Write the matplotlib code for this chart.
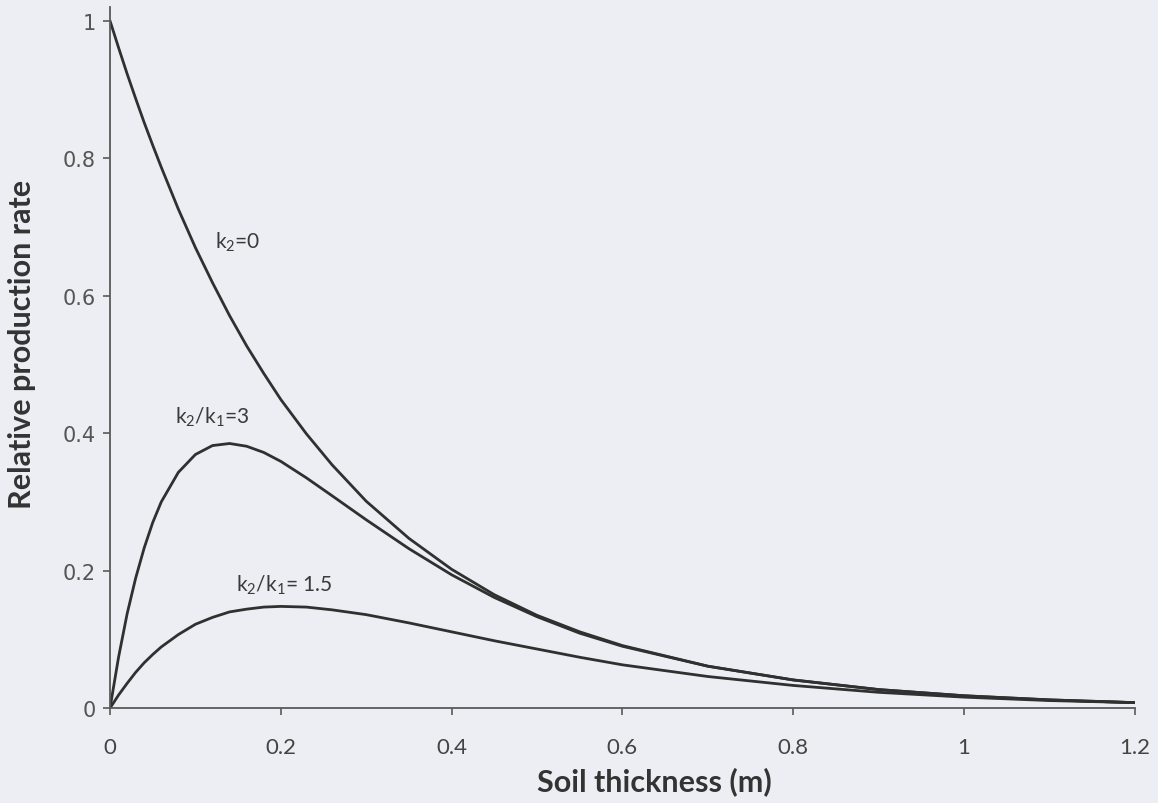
import numpy as np
import matplotlib.pyplot as plt

plt.rcParams['mathtext.fontset'] = 'custom'
plt.rcParams['mathtext.rm'] = 'Lato'
plt.rcParams['mathtext.default'] = 'regular'

# soil thickness (m)
thickness = [0, 0.01, 0.02, 0.03, 0.04, 0.05, 0.06, 0.08, 0.10, 0.12, 0.14,
             0.16, 0.18, 0.20, 0.23, 0.26, 0.30, 0.35, 0.40, 0.45, 0.50,
             0.55, 0.60, 0.70, 0.80, 0.90, 1.00, 1.10, 1.20]

# relative production rate
rate_k0 = [1.000, 0.961, 0.923, 0.887, 0.852, 0.819, 0.787, 0.726, 0.670, 0.619,
           0.571, 0.527, 0.487, 0.449, 0.399, 0.354, 0.301, 0.247, 0.202, 0.165,
           0.135, 0.111, 0.091, 0.061, 0.041, 0.027, 0.018, 0.012, 0.008]
rate_r3 = [0.000, 0.074, 0.137, 0.189, 0.233, 0.270, 0.300, 0.343, 0.369, 0.382,
           0.385, 0.381, 0.372, 0.359, 0.335, 0.309, 0.274, 0.232, 0.194, 0.161,
           0.133, 0.109, 0.090, 0.061, 0.041, 0.027, 0.018, 0.012, 0.008]
rate_r15 = [0.000, 0.019, 0.036, 0.052, 0.066, 0.078, 0.089, 0.107, 0.122, 0.132,
            0.140, 0.144, 0.147, 0.148, 0.147, 0.143, 0.136, 0.124, 0.111, 0.098,
            0.086, 0.074, 0.063, 0.046, 0.033, 0.023, 0.016, 0.011, 0.008]

xticks = [0, 0.2, 0.4, 0.6, 0.8, 1.0, 1.2]
xticklabels = ['0', '0.2', '0.4', '0.6', '0.8', '1', '1.2']
yticks = [0, 0.2, 0.4, 0.6, 0.8, 1.0]
yticklabels = ['0', '0.2', '0.4', '0.6', '0.8', '1']

bg = '#eceef3'
ink = '#303030'
axc = '#5a5a5a'

fig = plt.figure(figsize=(11.58, 8.04), dpi=100, facecolor=bg)
ax = fig.add_axes([0.095, 0.118, 0.885, 0.872], facecolor=bg)

for y in (rate_k0, rate_r3, rate_r15):
    ax.plot(thickness, y, color=ink, lw=2.0, solid_capstyle='round')

ax.set_xlim(0, 1.2)
ax.set_ylim(0, 1.02)
for s in ('top', 'right'):
    ax.spines[s].set_visible(False)
for s in ('left', 'bottom'):
    ax.spines[s].set_color(axc)
    ax.spines[s].set_linewidth(1.3)

ax.set_xticks(xticks)
ax.set_xticklabels(xticklabels, fontfamily='Lato', fontsize=16, color='#444444')
ax.set_yticks(yticks)
ax.set_yticklabels(yticklabels, fontfamily='DejaVu Sans', fontsize=15, color='#555555')
ax.tick_params(direction='out', length=5, width=1.2, color=axc)
ax.tick_params(axis='x', pad=16)
ax.tick_params(axis='y', pad=5)

ax.set_xlabel('Soil thickness (m)', fontfamily='Lato', fontweight='bold',
              fontsize=22, color='#333333')
ax.set_ylabel('Relative production rate', fontfamily='Lato', fontweight='bold',
              fontsize=22, color='#333333')
ax.xaxis.set_label_coords(0.531, -0.104)
ax.yaxis.set_label_coords(-0.086, 0.52)
ax.xaxis.label.set_va('center')
ax.yaxis.label.set_va('center')

tk = dict(fontsize=15, color='#3a3a3a', fontfamily='Lato', va='center')
ax.text(0.123, 0.679, r'k$_2$=0', **tk)
ax.text(0.076, 0.424, r'k$_2$/k$_1$=3', **tk)
ax.text(0.147, 0.180, r'k$_2$/k$_1$= 1.5', **tk)

fig.savefig('out.png', dpi=100, facecolor=bg)
